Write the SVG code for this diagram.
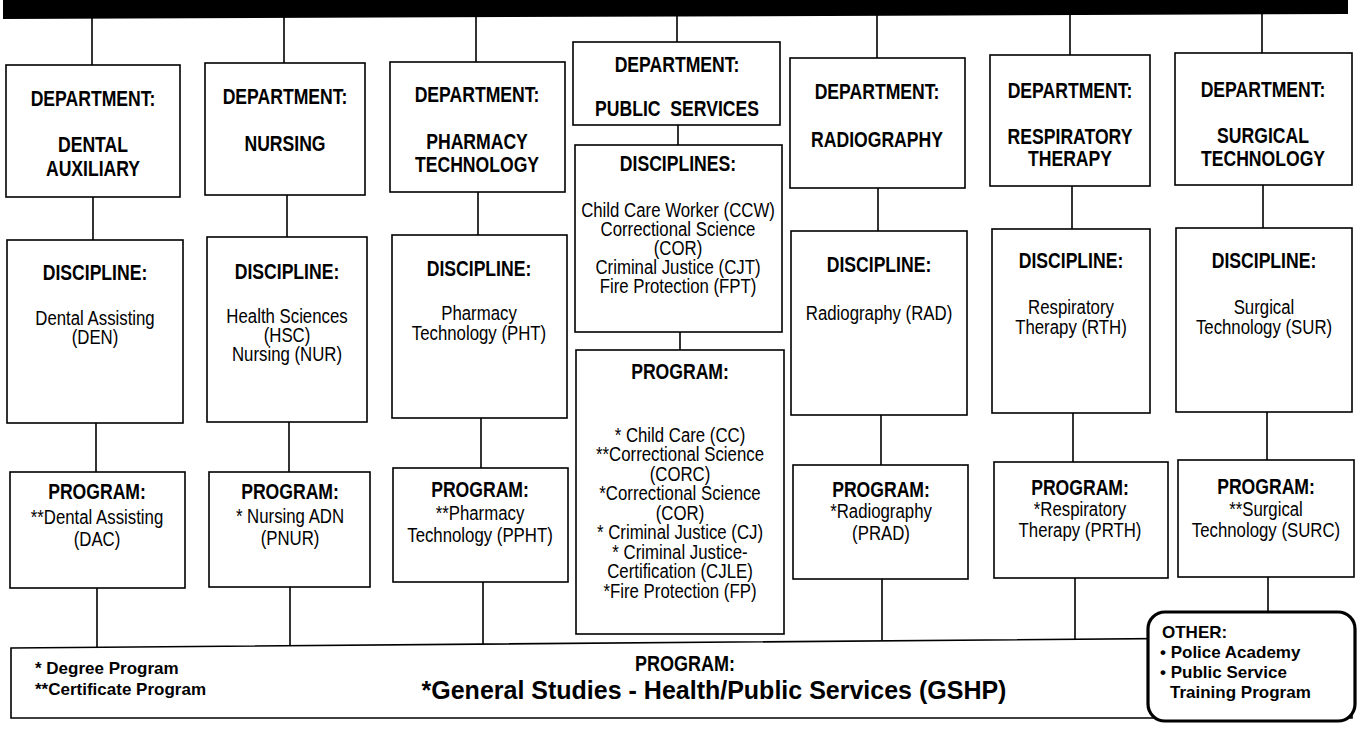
<svg xmlns="http://www.w3.org/2000/svg" width="1360" height="733" viewBox="0 0 1360 733">
<style>
.r{fill:#fff;stroke:#000;stroke-width:1.6}
.h{font-family:'Liberation Sans',Arial,sans-serif;font-weight:700;font-size:22px;text-anchor:middle;fill:#000}
.b{font-family:'Liberation Sans',Arial,sans-serif;font-weight:400;font-size:21px;text-anchor:middle;fill:#000}
.w{font-family:'Liberation Sans',Arial,sans-serif;font-weight:700;fill:#000}
.c line{stroke:#000;stroke-width:1.6}
</style>
<rect width="1360" height="733" fill="#fff"/>
<polygon points="3,0 1348,0 1348,14 3,19" fill="#000"/>
<g class="c" id="connectors">
<line x1="92" y1="17" x2="92" y2="65"/><line x1="93" y1="197" x2="93" y2="240"/><line x1="96" y1="423" x2="96" y2="472"/><line x1="97" y1="588" x2="97" y2="648"/>
<line x1="284" y1="17" x2="284" y2="63"/><line x1="287" y1="195" x2="287" y2="237"/><line x1="289" y1="422" x2="289" y2="472"/><line x1="290" y1="587" x2="290" y2="647"/>
<line x1="476" y1="17" x2="476" y2="62"/><line x1="478" y1="192" x2="478" y2="235"/><line x1="481" y1="418" x2="481" y2="468"/><line x1="483" y1="582" x2="483" y2="645"/>
<line x1="677" y1="16" x2="677" y2="42"/><line x1="678" y1="125" x2="678" y2="145"/><line x1="680" y1="332" x2="680" y2="350"/>
<line x1="877" y1="15" x2="877" y2="58"/><line x1="878" y1="188" x2="878" y2="231"/><line x1="881" y1="415" x2="881" y2="465"/><line x1="882" y1="579" x2="882" y2="642"/>
<line x1="1070" y1="15" x2="1070" y2="55"/><line x1="1072" y1="186" x2="1072" y2="229"/><line x1="1073" y1="413" x2="1073" y2="462"/><line x1="1075" y1="578" x2="1075" y2="640"/>
<line x1="1262" y1="14" x2="1262" y2="53"/><line x1="1263" y1="185" x2="1263" y2="228"/><line x1="1267" y1="412" x2="1267" y2="460"/><line x1="1268" y1="577" x2="1268" y2="612"/>
</g>
<g id="dept-dental">
<rect class="r" x="6" y="65" width="174" height="132"/>
<g transform="translate(93 0) scale(0.8 1)"><text class="h" x="0" y="106">DEPARTMENT:</text><text class="h" x="0" y="152">DENTAL</text><text class="h" x="0" y="176">AUXILIARY</text></g>
</g>
<g id="disc-dental">
<rect class="r" x="7" y="240" width="176" height="183"/>
<g transform="translate(95 0) scale(0.8 1)"><text class="h" x="0" y="280">DISCIPLINE:</text><text class="b" x="0" y="325">Dental Assisting</text><text class="b" x="0" y="344">(DEN)</text></g>
</g>
<g id="prog-dental">
<rect class="r" x="10" y="472" width="175" height="116"/>
<g transform="translate(97 0) scale(0.8 1)"><text class="h" x="0" y="499">PROGRAM:</text><text class="b" x="0" y="524">**Dental Assisting</text><text class="b" x="0" y="546">(DAC)</text></g>
</g>
<g id="dept-nursing">
<rect class="r" x="205" y="63" width="160" height="132"/>
<g transform="translate(285 0) scale(0.8 1)"><text class="h" x="0" y="104">DEPARTMENT:</text><text class="h" x="0" y="151">NURSING</text></g>
</g>
<g id="disc-nursing">
<rect class="r" x="207" y="237" width="160" height="185"/>
<g transform="translate(287 0) scale(0.8 1)"><text class="h" x="0" y="279">DISCIPLINE:</text><text class="b" x="0" y="323">Health Sciences</text><text class="b" x="0" y="342">(HSC)</text><text class="b" x="0" y="361">Nursing (NUR)</text></g>
</g>
<g id="prog-nursing">
<rect class="r" x="209" y="472" width="161" height="115"/>
<g transform="translate(290 0) scale(0.8 1)"><text class="h" x="0" y="499">PROGRAM:</text><text class="b" x="0" y="523">* Nursing ADN</text><text class="b" x="0" y="545">(PNUR)</text></g>
</g>
<g id="dept-pharmacy">
<rect class="r" x="390" y="62" width="175" height="130"/>
<g transform="translate(477 0) scale(0.8 1)"><text class="h" x="0" y="102">DEPARTMENT:</text><text class="h" x="0" y="149">PHARMACY</text><text class="h" x="0" y="172">TECHNOLOGY</text></g>
</g>
<g id="disc-pharmacy">
<rect class="r" x="392" y="235" width="175" height="183"/>
<g transform="translate(479 0) scale(0.8 1)"><text class="h" x="0" y="276">DISCIPLINE:</text><text class="b" x="0" y="320">Pharmacy</text><text class="b" x="0" y="340">Technology (PHT)</text></g>
</g>
<g id="prog-pharmacy">
<rect class="r" x="393" y="468" width="175" height="114"/>
<g transform="translate(480 0) scale(0.8 1)"><text class="h" x="0" y="497">PROGRAM:</text><text class="b" x="0" y="520">**Pharmacy</text><text class="b" x="0" y="542">Technology (PPHT)</text></g>
</g>
<g id="dept-public">
<rect class="r" x="573" y="42" width="207" height="83"/>
<g transform="translate(677 0) scale(0.8 1)"><text class="h" x="0" y="72">DEPARTMENT:</text><text class="h" x="0" y="116" xml:space="preserve">PUBLIC  SERVICES</text></g>
</g>
<g id="disc-public">
<rect class="r" x="575" y="145" width="207" height="187"/>
<g transform="translate(678 0) scale(0.8 1)"><text class="h" x="0" y="171">DISCIPLINES:</text><text class="b" x="0" y="217">Child Care Worker (CCW)</text><text class="b" x="0" y="236">Correctional Science</text><text class="b" x="0" y="255">(COR)</text><text class="b" x="0" y="274">Criminal Justice (CJT)</text><text class="b" x="0" y="293">Fire Protection (FPT)</text></g>
</g>
<g id="prog-public">
<rect class="r" x="576" y="350" width="208" height="284"/>
<g transform="translate(680 0) scale(0.8 1)"><text class="h" x="0" y="379">PROGRAM:</text><text class="b" x="0" y="442">* Child Care (CC)</text><text class="b" x="0" y="461.5">**Correctional Science</text><text class="b" x="0" y="481">(CORC)</text><text class="b" x="0" y="500.5">*Correctional Science</text><text class="b" x="0" y="520">(COR)</text><text class="b" x="0" y="539.5">* Criminal Justice (CJ)</text><text class="b" x="0" y="559">* Criminal Justice-</text><text class="b" x="0" y="578.5">Certification (CJLE)</text><text class="b" x="0" y="598">*Fire Protection (FP)</text></g>
</g>
<g id="dept-radiography">
<rect class="r" x="790" y="58" width="175" height="130"/>
<g transform="translate(877 0) scale(0.8 1)"><text class="h" x="0" y="99">DEPARTMENT:</text><text class="h" x="0" y="147">RADIOGRAPHY</text></g>
</g>
<g id="disc-radiography">
<rect class="r" x="791" y="231" width="176" height="184"/>
<g transform="translate(879 0) scale(0.8 1)"><text class="h" x="0" y="272">DISCIPLINE:</text><text class="b" x="0" y="320">Radiography (RAD)</text></g>
</g>
<g id="prog-radiography">
<rect class="r" x="793" y="465" width="175" height="114"/>
<g transform="translate(881 0) scale(0.8 1)"><text class="h" x="0" y="497">PROGRAM:</text><text class="b" x="0" y="518">*Radiography</text><text class="b" x="0" y="540">(PRAD)</text></g>
</g>
<g id="dept-respiratory">
<rect class="r" x="990" y="55" width="160" height="131"/>
<g transform="translate(1070 0) scale(0.8 1)"><text class="h" x="0" y="98">DEPARTMENT:</text><text class="h" x="0" y="144">RESPIRATORY</text><text class="h" x="0" y="166">THERAPY</text></g>
</g>
<g id="disc-respiratory">
<rect class="r" x="992" y="229" width="158" height="184"/>
<g transform="translate(1071 0) scale(0.8 1)"><text class="h" x="0" y="268">DISCIPLINE:</text><text class="b" x="0" y="314">Respiratory</text><text class="b" x="0" y="334">Therapy (RTH)</text></g>
</g>
<g id="prog-respiratory">
<rect class="r" x="994" y="462" width="174" height="116"/>
<g transform="translate(1080 0) scale(0.8 1)"><text class="h" x="0" y="495">PROGRAM:</text><text class="b" x="0" y="516">*Respiratory</text><text class="b" x="0" y="537">Therapy (PRTH)</text></g>
</g>
<g id="dept-surgical">
<rect class="r" x="1175" y="53" width="177" height="132"/>
<g transform="translate(1263 0) scale(0.8 1)"><text class="h" x="0" y="97">DEPARTMENT:</text><text class="h" x="0" y="143">SURGICAL</text><text class="h" x="0" y="166">TECHNOLOGY</text></g>
</g>
<g id="disc-surgical">
<rect class="r" x="1176" y="228" width="176" height="184"/>
<g transform="translate(1264 0) scale(0.8 1)"><text class="h" x="0" y="268">DISCIPLINE:</text><text class="b" x="0" y="314">Surgical</text><text class="b" x="0" y="334">Technology (SUR)</text></g>
</g>
<g id="prog-surgical">
<rect class="r" x="1178" y="460" width="176" height="117"/>
<g transform="translate(1266 0) scale(0.8 1)"><text class="h" x="0" y="494">PROGRAM:</text><text class="b" x="0" y="516">**Surgical</text><text class="b" x="0" y="537">Technology (SURC)</text></g>
</g>
<g id="prog-general">
<polygon class="r" points="11,648 1352,637 1352,718 11,718"/>
<text class="w" x="35" y="674" font-size="17">* Degree Program</text>
<text class="w" x="35" y="695" font-size="17">**Certificate Program</text>
<g transform="translate(685 0) scale(0.82 1)"><text class="h" x="0" y="671" font-size="25">PROGRAM:</text></g>
<text class="w" x="714" y="699" font-size="25" text-anchor="middle">*General Studies - Health/Public Services (GSHP)</text>
</g>
<g id="other">
<rect x="1148" y="612" width="207" height="109" rx="17" fill="#fff" stroke="#000" stroke-width="3.2"/>
<text class="w" x="1162" y="638" font-size="17">OTHER:</text>
<text class="w" x="1160" y="658" font-size="17">• Police Academy</text>
<text class="w" x="1160" y="678" font-size="17">• Public Service</text>
<text class="w" x="1170" y="698" font-size="17">Training Program</text>
</g>
</svg>
